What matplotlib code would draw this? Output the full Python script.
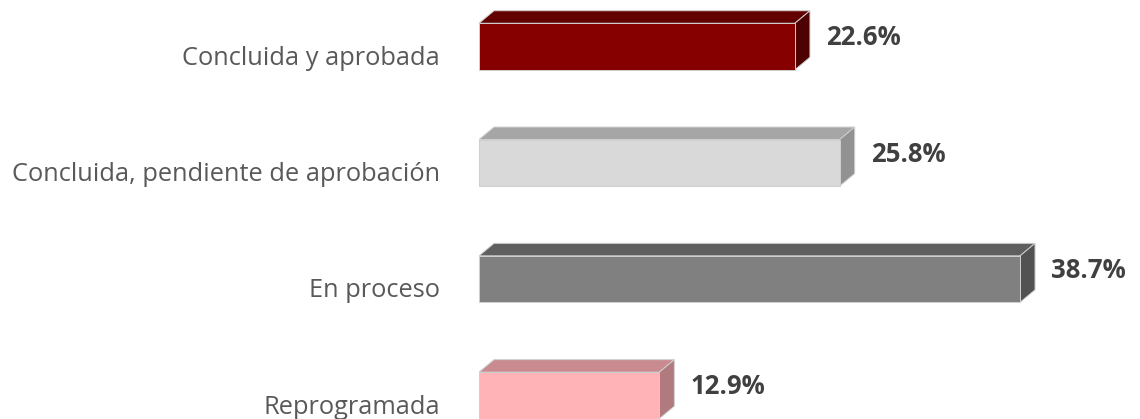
import matplotlib
matplotlib.use("Agg")
import matplotlib.pyplot as plt
from matplotlib.patches import Polygon
from matplotlib.transforms import offset_copy

categories = ["Concluida y aprobada", "Concluida, pendiente de aprobación",
              "En proceso", "Reprogramada"]
values = [22.6, 25.8, 38.7, 12.9]
value_labels = ["22.6%", "25.8%", "38.7%", "12.9%"]

front_colors = ["#860000", "#d9d9d9", "#808080", "#ffb3b7"]
top_colors = ["#620000", "#a6a6a6", "#5f5f5f", "#c98b8f"]
side_colors = ["#4f0000", "#929292", "#525252", "#b07a7e"]

W, H, DPI = 1140, 419, 100
fig = plt.figure(figsize=(W / DPI, H / DPI), dpi=DPI)
fig.patch.set_facecolor("white")

px_per_unit_x = 13.98
px_per_unit_y = 116.3
x0_px = 479
ax = fig.add_axes([x0_px / W, 0, 1 - x0_px / W, 1])
xmax = (W - x0_px) / px_per_unit_x
ax.set_xlim(0, xmax)
top_off = 46.5 / px_per_unit_y
ax.set_ylim((H - 46.5) / px_per_unit_y, -top_off)
ax.axis("off")

bar_h = 46.5 / px_per_unit_y
dx = 15 / px_per_unit_x
dy = 12.5 / px_per_unit_y
edge = "#cfcfcf"

for i, (v, fc, tc, sc) in enumerate(zip(values, front_colors, top_colors, side_colors)):
    y_top = i - bar_h / 2
    y_bot = i + bar_h / 2
    ax.barh(i, v, height=bar_h, left=0, color=fc, edgecolor=edge, linewidth=0.7, zorder=3)
    top = Polygon([(0, y_top), (dx, y_top - dy), (v + dx, y_top - dy), (v, y_top)],
                  closed=True, facecolor=tc, edgecolor=edge, linewidth=0.7, zorder=2)
    side = Polygon([(v, y_top), (v + dx, y_top - dy), (v + dx, y_bot - dy), (v, y_bot)],
                   closed=True, facecolor=sc, edgecolor=edge, linewidth=0.7, zorder=2)
    ax.add_patch(top)
    ax.add_patch(side)

    # value label
    ax.text(v + dx, i - dy / 2 - 0.02, value_labels[i],
            transform=offset_copy(ax.transData, fig=fig, x=16, y=0, units="dots"),
            ha="left", va="center", fontsize=18.5, fontweight="bold",
            family="Open Sans", color="#404040")

    # category label
    ax.text(0, y_bot, categories[i],
            transform=offset_copy(ax.transData, fig=fig, x=-39, y=5, units="dots"),
            ha="right", va="baseline", fontsize=18.3, family="Open Sans",
            color="#595959", clip_on=False)

fig.savefig("out.png", dpi=DPI, facecolor="white")
